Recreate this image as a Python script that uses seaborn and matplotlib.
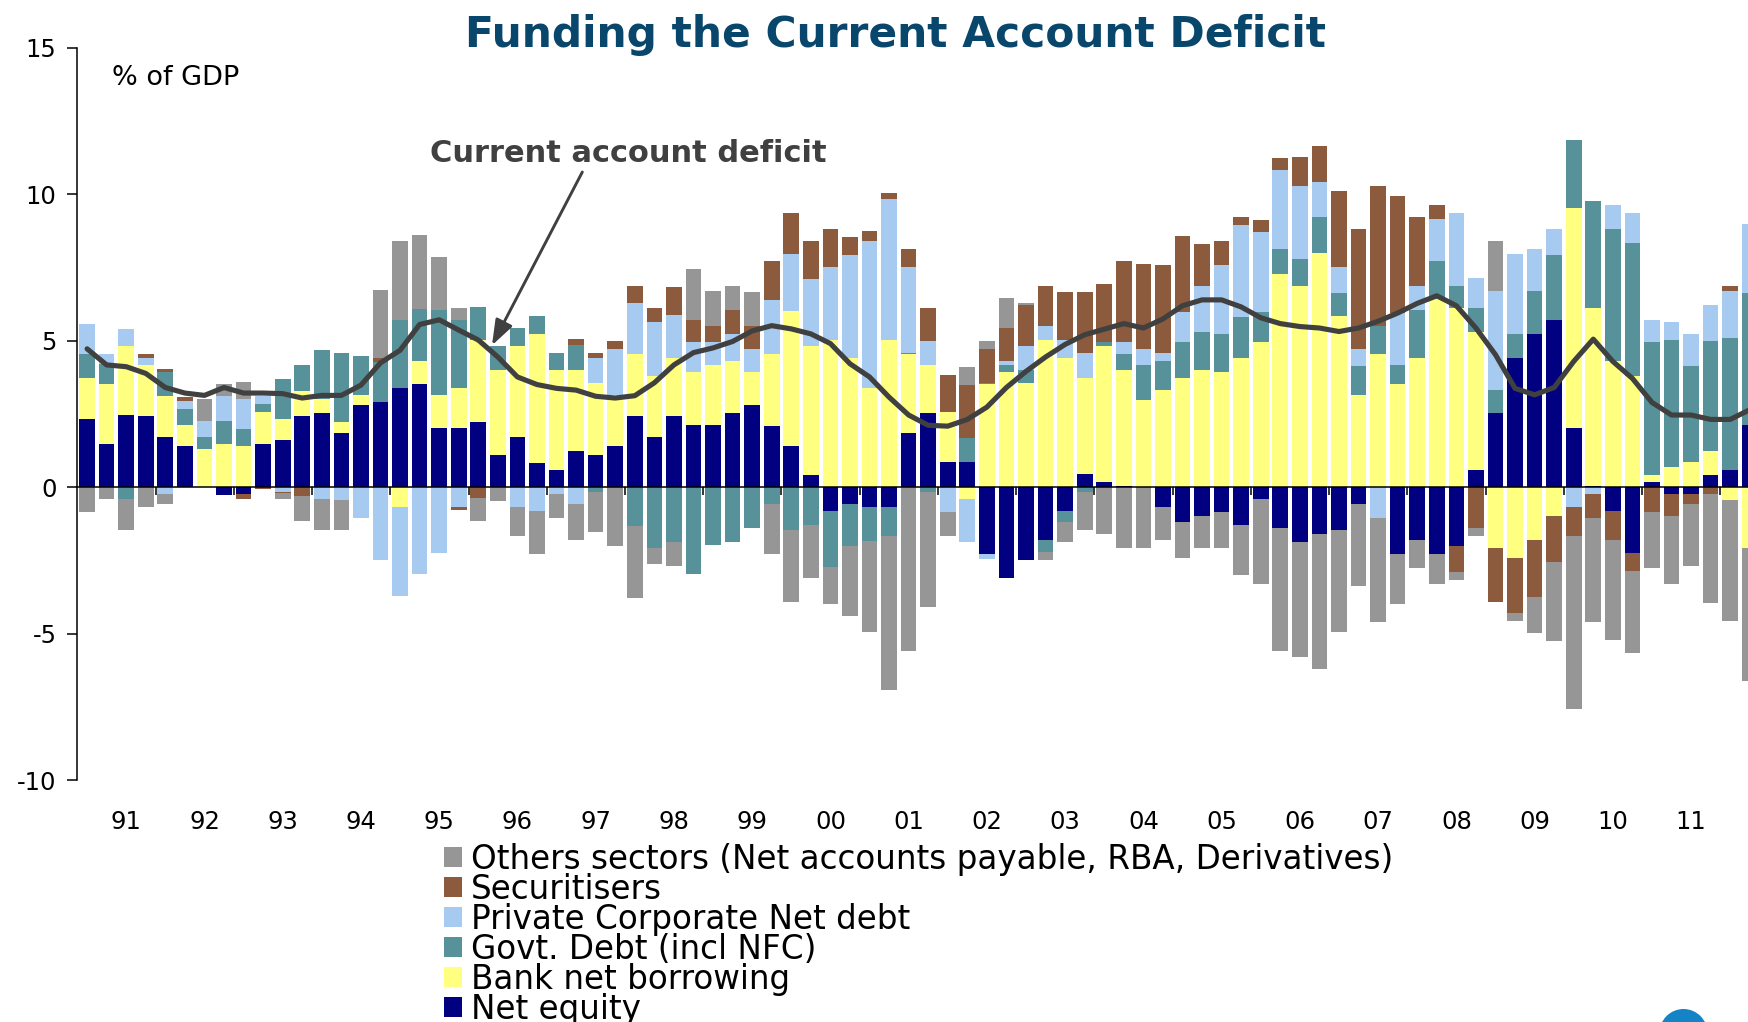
import numpy as np
import matplotlib
matplotlib.use("Agg")
import matplotlib.pyplot as plt
from matplotlib.patches import Rectangle, Ellipse
import seaborn as sns

# Quarterly funding components, % of GDP (first quarter shown is 1990 Q3)
year_labels = ["91", "92", "93", "94", "95", "96", "97", "98", "99", "00",
               "01", "02", "03", "04", "05", "06", "07", "08", "09", "10", "11"]

net_equity = [2.32, 1.49, 2.48, 2.42, 1.71, 1.43, 0, -0.27, -0.24, 1.49,
              1.63, 2.45, 2.53, 1.84, 2.80, 2.90, 3.38, 3.52, 2.04, 2.04,
              2.23, 1.11, 1.71, 0.82, 0.61, 1.23, 1.11, 1.43, 2.42, 1.71,
              2.42, 2.12, 2.12, 2.53, 2.80, 2.09, 1.43, 0.41, -0.79, -0.58,
              -0.66, -0.66, 1.84, 2.53, 0.88, 0.88, -2.29, -3.09, -2.48, -1.81,
              -0.79, 0.47, 0.20, 0.06, 0, -0.66, -1.19, -0.99, -0.85, -1.27,
              -0.38, -1.39, -1.88, -1.60, -1.46, -0.58, 0, -2.29, -1.80, -2.29,
              -2.01, 0.61, 2.53, 4.41, 5.23, 5.70, 2.04, 0.06, -0.79, -2.23,
              0.20, -0.24, -0.24, 0.41, 0.61, 2.12]

bank_net_borrowing = [1.40, 2.03, 2.33, 1.77, 1.40, 0.69, 1.30, 1.49, 1.43, 1.10,
                      0.69, 0.85, 0.47, 0.38, 0.37, 0, -0.66, 0.81, 1.13, 1.34,
                      2.80, 2.88, 3.11, 4.41, 3.38, 2.76, 2.47, 1.74, 2.12, 2.09,
                      1.98, 1.81, 2.07, 1.80, 1.13, 2.45, 4.60, 4.41, 5.02, 4.41,
                      3.38, 5.02, 2.70, 1.66, 1.71, -0.38, 3.52, 3.93, 3.58, 5.02,
                      4.41, 3.25, 4.62, 3.93, 2.97, 3.31, 3.72, 3.99, 3.93, 4.41,
                      4.95, 7.30, 6.89, 7.99, 5.84, 3.17, 4.54, 3.52, 4.41, 6.42,
                      6.11, 4.68, -2.07, -2.42, -1.81, -0.99, 7.48, 6.05, 4.33, 3.80,
                      0.21, 0.69, 0.88, 0.82, -0.44, -2.07]

govt_debt = [0.82, 0.70, -0.38, 0, 0.82, 0.55, 0.41, 0.76, 0.55, 0.27,
             1.37, 0.88, 1.68, 2.38, 1.30, 1.39, 2.35, 1.75, 2.87, 2.32,
             1.14, 0.84, 0.61, 0.61, 0.61, 0.88, -0.17, 0, -1.33, -2.07,
             -1.88, -2.97, -1.95, -1.88, -1.39, -0.58, -1.46, -1.27, -1.91, -1.43,
             -1.16, -1.01, 0.06, -0.17, 0, 0.82, 0.06, 0.26, 0.41, -0.40,
             -0.40, -0.17, 0.14, 0.55, 1.22, 1.02, 1.23, 1.30, 1.30, 1.40,
             1.05, 0.82, 0.90, 1.23, 0.78, 0.96, 0.96, 0.67, 1.63, 1.30,
             0.78, 0.82, 0.78, 0.82, 1.46, 2.23, 2.32, 3.66, 4.48, 4.53,
             4.54, 4.33, 3.25, 3.78, 4.48, 4.50]

private_corporate = [1.02, 0.32, 0.61, 0.21, -0.24, 0.27, 0.55, 0.88, 1.02, 0.27,
                     -0.15, 0, -0.38, -0.44, -1.05, -2.48, -3.05, -2.97, -2.23, -0.66,
                     0, 0, -0.66, -0.79, -0.24, -0.58, 0.82, 1.57, 1.77, 1.84,
                     1.49, 1.02, 0.76, 0.90, 0.81, 1.87, 1.95, 2.29, 2.50, 3.52,
                     5.02, 4.82, 2.91, 0.82, -0.85, -1.48, -0.14, 0.14, 0.82, 0.49,
                     0.61, 0.88, 0, 0.41, 0.55, 0.27, 1.05, 1.60, 2.35, 3.14,
                     2.73, 2.70, 2.48, 1.19, 0.90, 0.61, -1.05, 1.75, 0.85, 1.43,
                     2.47, 1.02, 3.38, 2.73, 1.43, 0.88, -0.66, -0.24, 0.82, 1.04,
                     0.75, 0.63, 1.10, 1.23, 1.63, 2.38]

securitisers = [0, 0, 0, 0.14, 0.12, 0.14, 0, 0, -0.14, -0.05,
                -0.05, -0.30, 0, 0, 0, 0.12, 0, 0, 0, -0.12,
                -0.35, 0, 0, 0, 0, 0.21, 0.20, 0.27, 0.55, 0.47,
                0.96, 0.75, 0.55, 0.81, 0.76, 1.30, 1.37, 1.30, 1.30, 0.61,
                0.34, 0.20, 0.61, 1.10, 1.23, 1.81, 1.16, 1.10, 1.43, 1.36,
                1.65, 2.06, 1.98, 2.79, 2.87, 3.00, 2.59, 1.43, 0.82, 0.27,
                0.41, 0.41, 1.02, 1.23, 2.59, 4.07, 4.80, 4.02, 2.33, 0.49,
                -0.88, -1.39, -1.84, -1.86, -1.94, -1.54, -1.01, -0.81, -1.02, -0.64,
                -0.85, -0.75, -0.34, -0.24, 0.14, 0]

other_sectors = [-0.85, -0.41, -1.07, -0.66, -0.32, 0, 0.75, 0.40, 0.61, 0,
                 -0.20, -0.85, -1.07, -1.01, 0, 2.32, 2.67, 2.52, 1.84, 0.41,
                 -0.80, -0.46, -1.01, -1.48, -0.81, -1.22, -1.36, -2.00, -2.45, -0.55,
                 -0.81, 1.77, 1.22, 0.82, 1.16, -1.69, -2.45, -1.83, -1.28, -2.38,
                 -3.13, -5.23, -5.58, -3.92, -0.81, 0.61, 0.27, 1.02, 0.06, -0.27,
                 -0.69, -1.30, -1.60, -2.07, -2.07, -1.14, -1.22, -1.08, -1.22, -1.71,
                 -2.93, -4.19, -3.92, -4.60, -3.48, -2.79, -3.54, -1.69, -0.96, -1.02,
                 -0.27, -0.27, 1.71, -0.27, -1.22, -2.71, -5.90, -3.54, -3.40, -2.79,
                 -1.91, -2.32, -2.10, -3.70, -4.12, -4.54]

current_account_deficit = [4.73, 4.18, 4.12, 3.89, 3.41, 3.22, 3.14, 3.41, 3.22, 3.22,
                           3.20, 3.05, 3.14, 3.14, 3.49, 4.25, 4.68, 5.56, 5.72, 5.37,
                           5.03, 4.45, 3.77, 3.51, 3.38, 3.32, 3.11, 3.05, 3.13, 3.57,
                           4.18, 4.60, 4.76, 4.98, 5.34, 5.52, 5.41, 5.24, 4.91, 4.22,
                           3.77, 3.08, 2.47, 2.12, 2.09, 2.32, 2.74, 3.41, 3.96, 4.45,
                           4.88, 5.21, 5.40, 5.59, 5.44, 5.75, 6.20, 6.40, 6.40, 6.16,
                           5.79, 5.59, 5.49, 5.44, 5.32, 5.44, 5.67, 5.95, 6.28, 6.54,
                           6.20, 5.44, 4.53, 3.38, 3.16, 3.41, 4.30, 5.06, 4.30, 3.72,
                           2.90, 2.47, 2.47, 2.32, 2.32, 2.65]

# Stacking order from the zero line outwards, with legend labels and colours
series = [
    ("Net equity", net_equity, "#000080"),
    ("Bank net borrowing", bank_net_borrowing, "#FFFF80"),
    ("Govt. Debt (incl NFC)", govt_debt, "#57929A"),
    ("Private Corporate Net debt", private_corporate, "#A6CAF0"),
    ("Securitisers", securitisers, "#8C5B3E"),
    ("Others sectors (Net accounts payable, RBA, Derivatives)", other_sectors, "#969696"),
]

W, H = 1748, 1022
sns.set_theme(style="white")
plt.rcParams["font.family"] = ["DejaVu Sans"]
plt.rcParams["axes.unicode_minus"] = False

fig = plt.figure(figsize=(W / 100, H / 100), dpi=100)
ax = fig.add_axes([77.3 / W, 1 - 780.4 / H, 1 - 77.3 / W, (780.4 - 47.9) / H])

n = len(net_equity)
quarters = np.arange(n)
pos_base = np.zeros(n)
neg_base = np.zeros(n)
for name, vals, col in series:
    v = np.asarray(vals, dtype=float)
    bottom = np.where(v >= 0, pos_base, neg_base)
    sns.barplot(x=quarters, y=v, bottom=bottom, color=col, saturation=1,
                width=0.8, linewidth=0, errorbar=None, ax=ax, zorder=1)
    pos_base = pos_base + np.clip(v, 0, None)
    neg_base = neg_base + np.clip(v, None, 0)

sns.lineplot(x=quarters, y=current_account_deficit, color="#404040", lw=3.7,
             ax=ax, zorder=4, solid_joinstyle="round", solid_capstyle="round")

ax.set_xlim(-0.5, 84.91)
ax.set_ylim(-10, 15)
ax.set_xlabel("")
ax.set_ylabel("")

# y axis
ax.set_yticks([-10, -5, 0, 5, 10, 15])
ax.set_yticklabels(["-10", "-5", "0", "5", "10", "15"])
ax.tick_params(axis="y", direction="out", length=7, width=1.1, pad=8,
               labelsize=17.5, colors="black", left=True)
for s in ("top", "right"):
    ax.spines[s].set_visible(False)
ax.spines["left"].set_color("black")
ax.spines["left"].set_linewidth(1.1)

# category axis crossing at zero, with year boundary ticks
ax.spines["bottom"].set_position(("data", 0))
ax.spines["bottom"].set_color("black")
ax.spines["bottom"].set_linewidth(1.1)
boundaries = np.arange(3.5, n, 4)
ax.set_xticks(boundaries)
ax.tick_params(axis="x", direction="out", length=6, width=1.1,
               labelbottom=False, bottom=True, colors="black")

# year labels along the bottom of the plot area
yr = ax.secondary_xaxis("bottom")
yr.set_xticks(np.arange(len(year_labels)) * 4 + 2, year_labels)
yr.tick_params(length=0, pad=21, labelsize=17.5, colors="black")
yr.spines["bottom"].set_visible(False)

ax.annotate("Current account deficit", xy=(20.7, 4.85),
            xytext=(430, H - 161.5), textcoords="figure pixels",
            ha="left", va="baseline", fontsize=22, fontweight="bold",
            color="#404040",
            arrowprops=dict(arrowstyle="-|>,head_length=0.55,head_width=0.2",
                            mutation_scale=28, color="#404040", lw=2.1,
                            relpos=(0.39, 0.0), shrinkA=1, shrinkB=0),
            zorder=6)

fig.text(895.2 / W, 1 - 46.7 / H, "Funding the Current Account Deficit",
         ha="center", va="baseline", fontsize=30.5, fontweight="bold",
         color="#08466B")
fig.text(112 / W, 1 - 85 / H, "% of GDP", ha="left", va="baseline",
         fontsize=19.5, color="black")

# legend, listed from the outermost stack layer inwards
legend_fs = 23.5
em_px = legend_fs * 100 / 72
for i, (name, vals, col) in enumerate(reversed(series)):
    yc = 856.7 + 30.0 * i
    fig.patches.append(Rectangle((443.7 / W, 1 - (yc + 10) / H), 18 / W, 20 / H,
                                 transform=fig.transFigure, facecolor=col,
                                 edgecolor="none"))
    fig.text(471 / W, 1 - (yc + 0.3645 * em_px) / H, name, ha="left",
             va="baseline", fontsize=legend_fs, color="black")

fig.patches.append(Ellipse((1683.5 / W, 1 - 1033 / H), 48 / W, 48 / H,
                           transform=fig.transFigure, facecolor="#1584C6",
                           edgecolor="none"))

fig.savefig("out.png", dpi=100)
